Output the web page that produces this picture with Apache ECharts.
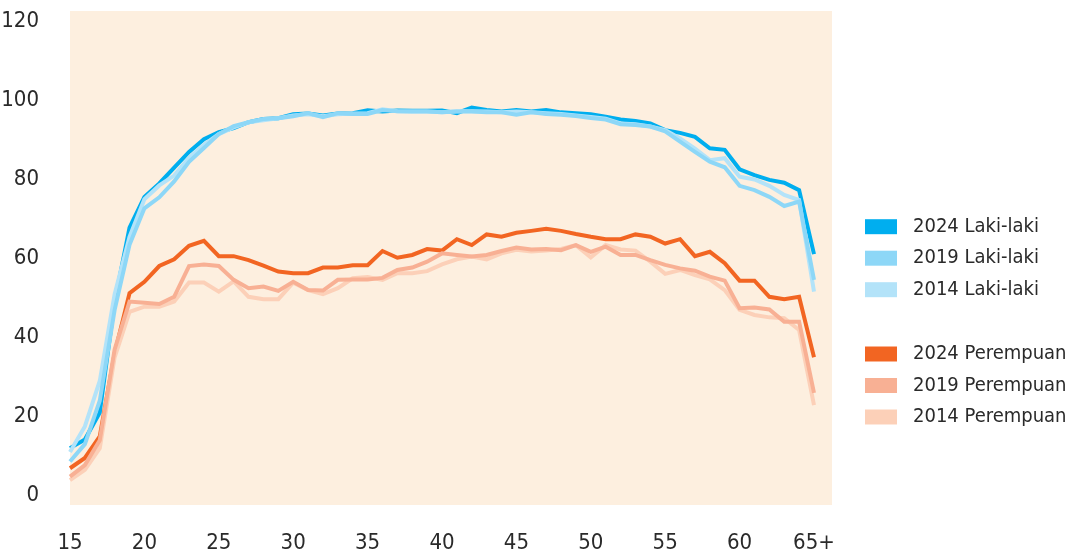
<!DOCTYPE html>
<html>
<head>
<meta charset="utf-8">
<script src="https://cdn.jsdelivr.net/npm/echarts@6/dist/echarts.min.js"></script>
<style>
  html, body { margin: 0; padding: 0; background: #fff; }
  #main { width: 1073px; height: 555px; }
</style>
</head>
<body>
<div id="main"></div>
<script>
// umur 15..64, 65+
var ages = [];
for (var a = 15; a <= 65; a++) ages.push(a);
var xTicks = [15, 20, 25, 30, 35, 40, 45, 50, 55, 60, 65];
var yTicks = [0, 20, 40, 60, 80, 100, 120];

var laki2024 = [12, 14.2, 21, 49, 67.8, 75.6, 79, 83, 87, 90.2, 92, 93, 94.5, 95.3, 95.5, 96.5, 96.7, 96.2, 96.7, 96.8,
  97.5, 97.2, 97.5, 97.4, 97.4, 97.5, 96.8, 98.2, 97.6, 97.2, 97.6, 97.2, 97.6, 97.0, 96.8, 96.5, 95.9, 95.2, 94.8, 94.2,
  92.5, 91.8, 90.8, 87.9, 87.5, 82.6, 81.1, 79.9, 79.2, 77.3, 61.1];
var laki2019 = [8.6, 13, 24, 47, 63.5, 72.7, 75.5, 79.5, 84.5, 88, 91.5, 93.5, 94.5, 95.3, 95.5, 96, 96.8, 95.8, 96.8, 96.6,
  96.6, 97.6, 97.3, 97.2, 97.2, 97, 97.2, 97.2, 97, 97, 96.4, 97, 96.6, 96.4, 96.1, 95.6, 95.2, 94, 93.8, 93.4,
  92.2, 89.6, 87, 84.5, 83.1, 78.4, 77.3, 75.6, 73.3, 74.4, 54.6];
var laki2014 = [11, 17.5, 29, 51, 65.5, 75, 78.5, 81, 85.5, 88.8, 91.5, 93.2, 94.5, 95, 95.5, 96.2, 96.5, 96, 96.5, 96.7,
  96.8, 97.8, 97.3, 97.2, 97.2, 97, 97.3, 97.3, 97.2, 97, 97.2, 97, 96.8, 96.6, 96.2, 95.8, 95.4, 94.2, 94, 93.4,
  92.5, 90.4, 87.8, 84.9, 85.4, 80.7, 80, 78.4, 76.1, 74.8, 51.6];
var prp2024 = [6.9, 9.5, 15, 36, 51.2, 54.1, 58.1, 59.8, 63.2, 64.5, 60.6, 60.6, 59.6, 58.2, 56.7, 56.3, 56.3, 57.7, 57.7, 58.3,
  58.3, 61.9, 60.2, 60.9, 62.4, 62, 64.9, 63.4, 66.1, 65.5, 66.5, 67, 67.5, 67, 66.2, 65.5, 64.9, 64.9, 66.1, 65.5,
  63.8, 64.9, 60.6, 61.7, 58.8, 54.4, 54.4, 50.3, 49.7, 50.3, 35];
var prp2019 = [4.8, 7.7, 14, 37, 49.1, 48.8, 48.5, 50.3, 58.1, 58.5, 58.1, 54.6, 52.5, 52.9, 51.8, 54.1, 52, 51.9, 54.6, 54.7,
  54.7, 55.1, 57.1, 57.7, 59.2, 61.3, 60.9, 60.5, 60.9, 61.9, 62.8, 62.3, 62.4, 62.1, 63.4, 61.7, 63, 60.9, 60.9, 59.6,
  58.4, 57.5, 56.9, 55.4, 54.4, 47.4, 47.6, 47.1, 44.0, 44.0, 26];
var prp2014 = [3.9, 6.5, 12, 35, 46.5, 47.8, 47.8, 49.1, 53.9, 53.9, 51.6, 54.2, 50.3, 49.7, 49.7, 53.9, 52, 51, 52.5, 55,
  55.3, 54.6, 56.3, 56.3, 56.8, 58.5, 59.8, 60.5, 59.8, 61.3, 62.2, 61.8, 62, 62.4, 63.4, 60.3, 63.4, 62.3, 62, 59.2,
  56.1, 57.1, 55.8, 54.7, 52, 47, 45.7, 45.1, 44.9, 41.9, 22.9];

var font = "'DejaVu Sans Condensed', 'Liberation Sans Narrow', sans-serif";

function pairs(vals) {
  var out = [];
  for (var i = 0; i < ages.length; i++) out.push([ages[i], vals[i]]);
  return out;
}

function line(name, vals, color, z) {
  return {
    name: name,
    type: 'line',
    data: pairs(vals),
    showSymbol: false,
    symbol: 'none',
    z: z,
    lineStyle: { color: color, width: 4, join: 'miter' },
    itemStyle: { color: color }
  };
}

function legendBox(top, names) {
  return {
    left: 865, top: top, orient: 'vertical', padding: 0,
    itemWidth: 32, itemHeight: 15, itemGap: 11.5,
    icon: 'rect',
    textStyle: { fontFamily: font, fontSize: 20, color: '#2a2a2a', padding: [0, 0, 0, 11] },
    data: names
  };
}

var chart = echarts.init(document.getElementById('main'));
chart.setOption({
  animation: false,
  grid: {
    left: 70, right: 241, top: 11, bottom: 50,
    outerBoundsMode: 'none',
    show: true, backgroundColor: '#fdefdf', borderWidth: 0
  },
  legend: [
    legendBox(216.7, ['2024 Laki-laki', '2019 Laki-laki', '2014 Laki-laki']),
    legendBox(344, ['2024 Perempuan', '2019 Perempuan', '2014 Perempuan'])
  ],
  xAxis: {
    type: 'value',
    min: 15, max: 66.21,
    axisLine: { show: false },
    axisTick: { show: false },
    splitLine: { show: false },
    axisLabel: {
      customValues: xTicks,
      margin: 27,
      fontFamily: font, fontSize: 22, color: '#2a2a2a',
      formatter: function (v) { return v === 65 ? '65+' : String(v); }
    }
  },
  yAxis: {
    type: 'value',
    min: -2.4, max: 122.66,
    axisLine: { show: false },
    axisTick: { show: false },
    splitLine: { show: false },
    axisLabel: {
      customValues: yTicks,
      margin: 31,
      fontFamily: font, fontSize: 22, color: '#2a2a2a'
    }
  },
  series: [
    line('2024 Laki-laki', laki2024, '#00aeef', 2),
    line('2019 Laki-laki', laki2019, '#8dd7f7', 4),
    line('2014 Laki-laki', laki2014, '#b3e3f9', 3),
    line('2024 Perempuan', prp2024, '#f26522', 2),
    line('2019 Perempuan', prp2019, '#f8b094', 4),
    line('2014 Perempuan', prp2014, '#fcd0b8', 3)
  ]
});
</script>
</body>
</html>
